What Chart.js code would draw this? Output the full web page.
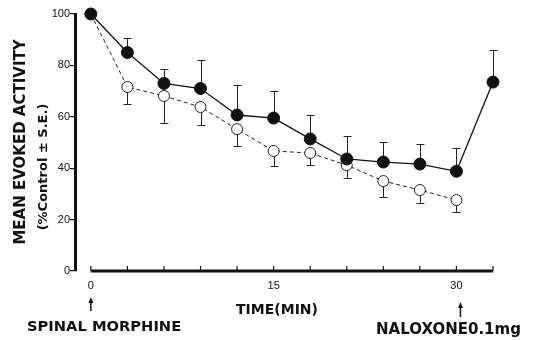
<!DOCTYPE html>
<html>
<head>
    <meta charset="utf-8">
    <title>Mean evoked activity</title>
    <script src="https://cdn.jsdelivr.net/npm/chart.js@4.4.1/dist/chart.umd.min.js"></script>
    <style>
        body { margin: 0; background: #fff; }
        #wrap { width: 536px; height: 340px; }
    </style>
</head>
<body>
<div id="wrap"><canvas id="myChart"></canvas></div>
<script>
    // time points (min)
    var times = [0, 3, 6, 9, 12, 15, 18, 21, 24, 27, 30, 33];
    // filled circles: morphine then naloxone at 30 min
    var withNalox = [100, 85, 73, 71, 60.7, 59.5, 51.4, 43.6, 42.4, 41.6, 38.8, 73.5];
    var withNaloxSE = [0, 5.7, 5.6, 11, 11.7, 10.5, 9.3, 8.9, 7.8, 7.8, 9.1, 12.5];
    // open circles: morphine only
    var morphOnly = [100, 71.6, 68.1, 63.8, 55.2, 46.7, 45.9, 41.2, 35, 31.5, 27.6];
    var morphOnlySE = [0, 6.6, 10.5, 7, 6.6, 5.8, 4.7, 5, 6.2, 5, 4.6];
    var xTicks = [0, 3, 6, 9, 12, 15, 18, 21, 24, 27, 30, 33];
    var xLabels = [0, 15, 30];
    var yTicks = [0, 20, 40, 60, 80, 100];

    var ink = '#111';
    var boldFace = '"DejaVu Sans", "Liberation Sans", sans-serif';

    function toPoints(ys) {
        return ys.map(function(y, i) { return { x: times[i], y: y }; });
    }

    // error bars: filled series upward, open series downward
    var errorBars = {
        id: 'errorBars',
        beforeDatasetsDraw: function(chart) {
            var ctx = chart.ctx, xs = chart.scales.x, ys = chart.scales.y;
            var sets = [[withNalox, withNaloxSE, 1], [morphOnly, morphOnlySE, -1]];
            ctx.save();
            ctx.strokeStyle = '#222';
            ctx.lineWidth = 1;
            sets.forEach(function(s) {
                s[0].forEach(function(v, i) {
                    if (!s[1][i]) return;
                    var px = Math.round(xs.getPixelForValue(times[i])) + 0.5;
                    var y0 = ys.getPixelForValue(v);
                    var y1 = ys.getPixelForValue(v + s[2] * s[1][i]);
                    ctx.beginPath();
                    ctx.moveTo(px, y0);
                    ctx.lineTo(px, y1);
                    ctx.moveTo(px - 4, Math.round(y1) + 0.5);
                    ctx.lineTo(px + 4, Math.round(y1) + 0.5);
                    ctx.stroke();
                });
            });
            ctx.restore();
        }
    };

    function arrow(ctx, px, top, bottom) {
        ctx.lineWidth = 1.5;
        ctx.beginPath();
        ctx.moveTo(px, bottom);
        ctx.lineTo(px, top + 4);
        ctx.stroke();
        ctx.beginPath();
        ctx.moveTo(px - 2.5, top + 6);
        ctx.lineTo(px, top);
        ctx.lineTo(px + 2.5, top + 6);
        ctx.closePath();
        ctx.fill();
    }

    // x axis line with upward ticks, titles and arrows
    var decorations = {
        id: 'decorations',
        afterDraw: function(chart) {
            var ctx = chart.ctx, xs = chart.scales.x, ys = chart.scales.y;
            var base = ys.getPixelForValue(0);
            ctx.save();
            ctx.strokeStyle = ink;
            ctx.lineWidth = 3;
            ctx.beginPath();
            ctx.moveTo(xs.getPixelForValue(0), base);
            ctx.lineTo(xs.getPixelForValue(33), base);
            ctx.stroke();
            ctx.lineWidth = 1.2;
            xTicks.forEach(function(t) {
                var px = xs.getPixelForValue(t);
                ctx.beginPath();
                ctx.moveTo(px, base);
                ctx.lineTo(px, base - 5);
                ctx.stroke();
            });

            ctx.fillStyle = ink;
            ctx.textBaseline = 'middle';
            ctx.textAlign = 'center';
            ctx.font = 'bold 14px ' + boldFace;
            ctx.fillText('TIME(MIN)', 277, 310);
            ctx.textAlign = 'left';
            ctx.font = 'bold 14.7px ' + boldFace;
            ctx.fillText('SPINAL MORPHINE', 27, 327);
            ctx.font = 'bold 15px ' + boldFace;
            ctx.fillText('NALOXONE0.1mg', 376, 330);

            // arrows under 0 and 30 min
            arrow(ctx, xs.getPixelForValue(0), 297, 311);
            arrow(ctx, xs.getPixelForValue(30) + 4, 302, 317);

            // y titles
            ctx.save();
            ctx.translate(21, 142);
            ctx.rotate(-Math.PI / 2);
            ctx.textAlign = 'center';
            ctx.font = 'bold 15px ' + boldFace;
            ctx.fillText('MEAN EVOKED ACTIVITY', 0, 0);
            ctx.restore();
            ctx.save();
            ctx.translate(44, 167);
            ctx.rotate(-Math.PI / 2);
            ctx.textAlign = 'center';
            ctx.font = 'bold 13px ' + boldFace;
            ctx.fillText('(%Control \u00b1 S.E.)', 0, 0);
            ctx.restore();
            ctx.restore();
        }
    };

    var chart = new Chart(document.getElementById('myChart'), {
        type: 'line',
        data: {
            datasets: [{
                data: toPoints(withNalox),
                borderColor: ink,
                borderWidth: 1.3,
                pointRadius: 6,
                pointBackgroundColor: ink,
                pointBorderColor: ink,
                pointBorderWidth: 1,
                clip: false
            }, {
                data: toPoints(morphOnly),
                borderColor: '#222',
                borderWidth: 1,
                borderDash: [4, 3],
                pointRadius: 5.5,
                pointBackgroundColor: '#fff',
                pointBorderColor: '#222',
                pointBorderWidth: 1,
                clip: false
            }]
        },
        options: {
            responsive: true,
            maintainAspectRatio: false,
            animation: false,
            events: [],
            layout: { padding: { top: 14, right: 43, left: 0, bottom: 0 } },
            plugins: { legend: { display: false }, tooltip: { enabled: false } },
            scales: {
                x: {
                    type: 'linear',
                    min: -1.3,
                    max: 33,
                    afterBuildTicks: function(scale) {
                        scale.ticks = xTicks.map(function(v) { return { value: v }; });
                    },
                    afterFit: function(scale) { scale.height = 69; },
                    grid: { display: false, drawTicks: false },
                    border: { display: false },
                    ticks: {
                        padding: 8,
                        color: ink,
                        maxRotation: 0,
                        autoSkip: false,
                        font: { family: '"Liberation Sans", Arial, sans-serif', size: 11 },
                        callback: function(v) { return xLabels.indexOf(v) >= 0 ? String(v) : ''; }
                    }
                },
                y: {
                    min: 0,
                    max: 100,
                    afterBuildTicks: function(scale) {
                        scale.ticks = yTicks.map(function(v) { return { value: v }; });
                    },
                    afterFit: function(scale) { scale.width = 75; },
                    grid: { drawOnChartArea: false, drawTicks: true, tickLength: 5, color: ink, lineWidth: 1.2 },
                    border: { display: true, color: ink, width: 3 },
                    ticks: {
                        padding: 0,
                        color: ink,
                        font: { family: '"Liberation Sans", Arial, sans-serif', size: 11 }
                    }
                }
            }
        },
        plugins: [errorBars, decorations]
    });
</script>
</body>
</html>
